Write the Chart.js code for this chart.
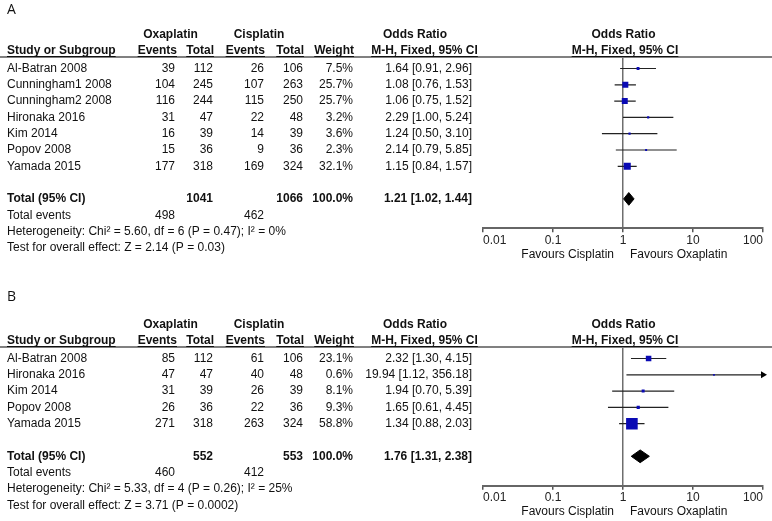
<!DOCTYPE html>
<html>
<head>
<meta charset="utf-8">
<script src="https://cdn.jsdelivr.net/npm/chart.js@4.4.1/dist/chart.umd.min.js"></script>
<style>
    body { margin: 0; background: #fff; }
    canvas { position: absolute; left: 0; }
    #chartA { top: 0; }
    #chartB { top: 290px; }
</style>
</head>
<body>
<canvas id="chartA" width="772" height="290"></canvas>
<canvas id="chartB" width="772" height="231"></canvas>
<script>
// axis
var tickValues = [0.01, 0.1, 1, 10, 100];
var tickLabels = ['0.01', '0.1', '1', '10', '100'];
var groups = ['Oxaplatin', 'Cisplatin'];

// panel A
var studiesA = ['Al-Batran 2008', 'Cunningham1 2008', 'Cunningham2 2008', 'Hironaka 2016', 'Kim 2014', 'Popov 2008', 'Yamada 2015'];
var oxaEventsA = [39, 104, 116, 31, 16, 15, 177];
var oxaTotalA = [112, 245, 244, 47, 39, 36, 318];
var cisEventsA = [26, 107, 115, 22, 14, 9, 169];
var cisTotalA = [106, 263, 250, 48, 39, 36, 324];
var weightA = [7.5, 25.7, 25.7, 3.2, 3.6, 2.3, 32.1];
var orA = [1.64, 1.08, 1.06, 2.29, 1.24, 2.14, 1.15];
var lowA = [0.91, 0.76, 0.75, 1.00, 0.50, 0.79, 0.84];
var highA = [2.96, 1.53, 1.52, 5.24, 3.10, 5.85, 1.57];
var pooledA = [1.21, 1.02, 1.44];
var sumTotalA = [1041, 1066];
var sumEventsA = [498, 462];
var hetA = 'Heterogeneity: Chi\u00b2 = 5.60, df = 6 (P = 0.47); I\u00b2 = 0%';
var testA = 'Test for overall effect: Z = 2.14 (P = 0.03)';

// panel B
var studiesB = ['Al-Batran 2008', 'Hironaka 2016', 'Kim 2014', 'Popov 2008', 'Yamada 2015'];
var oxaEventsB = [85, 47, 31, 26, 271];
var oxaTotalB = [112, 47, 39, 36, 318];
var cisEventsB = [61, 40, 26, 22, 263];
var cisTotalB = [106, 48, 39, 36, 324];
var weightB = [23.1, 0.6, 8.1, 9.3, 58.8];
var orB = [2.32, 19.94, 1.94, 1.65, 1.34];
var lowB = [1.30, 1.12, 0.70, 0.61, 0.88];
var highB = [4.15, 356.18, 5.39, 4.45, 2.03];
var pooledB = [1.76, 1.31, 2.38];
var sumTotalB = [552, 553];
var sumEventsB = [460, 412];
var hetB = 'Heterogeneity: Chi\u00b2 = 5.33, df = 4 (P = 0.26); I\u00b2 = 25%';
var testB = 'Test for overall effect: Z = 3.71 (P = 0.0002)';

// layout
var ROW_H = 16.3;
var FIRST_ROW = 68.5;
var TOP = 57;
var AXIS_GAP = 1.8;
var AXIS_H = 30;
var DIAMOND_H = 0.39;
var X_MIN = 0.01, X_MAX = 100;
var FONT = '12px "Liberation Sans", Arial, sans-serif';
var COL = { study: 7, oxEv: 175, oxTot: 213, cisEv: 264, cisTot: 303, weight: 353, or: 472 };

function fmtCI(v) {
    return v[0].toFixed(2) + ' [' + v[1].toFixed(2) + ', ' + v[2].toFixed(2) + ']';
}

function tablePlugin(p) {
    return {
        id: 'table',
        afterDraw: function (chart) {
            var ctx = chart.ctx;
            var ys = chart.scales.y;
            var xs = chart.scales.x;
            var n = p.studies.length;
            var totalRow = n + 1;

            function put(s, x, row, align, bold, under) {
                var y = ys.getPixelForValue(row);
                ctx.font = (bold ? 'bold ' : '') + FONT;
                ctx.textAlign = align;
                ctx.fillText(s, x, y);
                if (under) {
                    var w = ctx.measureText(s).width;
                    var x0 = align === 'right' ? x - w : (align === 'center' ? x - w / 2 : x);
                    ctx.fillRect(x0, Math.round(y + 5), w, 1);
                }
            }

            ctx.save();
            // header rule
            ctx.fillStyle = '#808080';
            ctx.fillRect(0, chart.chartArea.top - 1, chart.width, 2);

            ctx.fillStyle = '#111';
            ctx.textBaseline = 'middle';
            ctx.font = '14px "Open Sans", sans-serif';
            ctx.textAlign = 'left';
            ctx.fillText(p.letter, 7, p.letterY);

            // headers
            put(groups[0], 170.5, -2.06, 'center', true);
            put(groups[1], 259, -2.06, 'center', true);
            put('Odds Ratio', 415, -2.06, 'center', true);
            put('Odds Ratio', 623.5, -2.06, 'center', true);
            put('Study or Subgroup', COL.study, -1.07, 'left', true, true);
            put('Events', COL.oxEv + 2, -1.07, 'right', true, true);
            put('Total', COL.oxTot + 1, -1.07, 'right', true, true);
            put('Events', COL.cisEv + 1, -1.07, 'right', true, true);
            put('Total', COL.cisTot + 1, -1.07, 'right', true, true);
            put('Weight', COL.weight + 1, -1.07, 'right', true, true);
            put('M-H, Fixed, 95% CI', 424.5, -1.07, 'center', true, true);
            put('M-H, Fixed, 95% CI', 625, -1.07, 'center', true, true);

            // studies
            p.studies.forEach(function (s, i) {
                put(s, COL.study, i, 'left');
                put(String(p.oxEv[i]), COL.oxEv, i, 'right');
                put(String(p.oxTot[i]), COL.oxTot, i, 'right');
                put(String(p.cisEv[i]), COL.cisEv, i, 'right');
                put(String(p.cisTot[i]), COL.cisTot, i, 'right');
                put(p.weight[i].toFixed(1) + '%', COL.weight, i, 'right');
                put(fmtCI([p.or[i], p.low[i], p.high[i]]), COL.or, i, 'right');
            });

            // totals
            put('Total (95% CI)', COL.study, totalRow, 'left', true);
            put(String(p.sumTotal[0]), COL.oxTot, totalRow, 'right', true);
            put(String(p.sumTotal[1]), COL.cisTot, totalRow, 'right', true);
            put('100.0%', COL.weight, totalRow, 'right', true);
            put(fmtCI(p.pooled), COL.or, totalRow, 'right', true);
            put('Total events', COL.study, totalRow + 1, 'left');
            put(String(p.sumEvents[0]), COL.oxEv, totalRow + 1, 'right');
            put(String(p.sumEvents[1]), COL.cisEv, totalRow + 1, 'right');
            put(p.het, COL.study, totalRow + 2, 'left');
            put(p.test, COL.study, totalRow + 3, 'left');

            // favours
            var one = xs.getPixelForValue(1);
            var favRow = totalRow + AXIS_GAP + 1.62;
            put('Favours ' + groups[1], one - 9, favRow, 'right');
            put('Favours ' + groups[0], one + 7, favRow, 'left');
            ctx.restore();
        }
    };
}

function buildPanel(canvasId, p) {
    var canvas = document.getElementById(canvasId);
    var n = p.studies.length;
    var totalRow = n + 1;
    var axisRow = totalRow + AXIS_GAP;
    var axisPx = FIRST_ROW + axisRow * ROW_H;
    var yMin = (TOP - FIRST_ROW) / ROW_H;

    var datasets = [];

    // study squares
    datasets.push({
        type: 'scatter',
        order: 0,
        data: p.or.map(function (v, i) { return { x: v, y: i }; }),
        pointStyle: 'rect',
        pointRadius: p.weight.map(function (w) { return (1.6 + w * 0.17) / Math.SQRT2; }),
        pointBackgroundColor: '#0a0ab4',
        pointBorderColor: '#0a0ab4',
        pointBorderWidth: 0,
        backgroundColor: '#0a0ab4'
    });

    // confidence intervals
    p.low.forEach(function (lo, i) {
        datasets.push({
            type: 'line',
            order: 2,
            data: [{ x: lo, y: i }, { x: Math.min(p.high[i], X_MAX), y: i }],
            borderColor: '#222',
            borderWidth: 1.2,
            pointRadius: 0
        });
    });

    // arrows for CIs running off the axis
    var arrows = [];
    p.high.forEach(function (hi, i) {
        if (hi > X_MAX) arrows.push({ x: X_MAX, y: i });
    });
    if (arrows.length) {
        datasets.push({
            type: 'scatter',
            order: 1,
            data: arrows,
            pointStyle: 'triangle',
            pointRotation: 90,
            pointRadius: 4,
            pointBackgroundColor: '#000',
            pointBorderColor: '#000',
            pointBorderWidth: 0,
            clip: false
        });
    }

    // pooled diamond
    var pl = p.pooled;
    datasets.push({
        type: 'line',
        order: 1,
        data: [
            { x: pl[1], y: totalRow },
            { x: pl[0], y: totalRow - DIAMOND_H },
            { x: pl[2], y: totalRow },
            { x: pl[0], y: totalRow + DIAMOND_H },
            { x: pl[1], y: totalRow }
        ],
        fill: 'shape',
        backgroundColor: '#000',
        borderColor: '#000',
        borderWidth: 1,
        pointRadius: 0,
        tension: 0
    });

    return new Chart(canvas, {
        type: 'scatter',
        data: { datasets: datasets },
        options: {
            responsive: false,
            animation: false,
            devicePixelRatio: 1,
            events: [],
            layout: { padding: { left: 483, right: 9, top: TOP, bottom: canvas.height - axisPx - AXIS_H } },
            plugins: { legend: { display: false }, tooltip: { enabled: false } },
            scales: {
                x: {
                    type: 'logarithmic',
                    min: X_MIN,
                    max: X_MAX,
                    afterBuildTicks: function (s) {
                        s.ticks = tickValues.map(function (v) { return { value: v }; });
                    },
                    afterFit: function (s) { s.height = AXIS_H; },
                    ticks: {
                        autoSkip: false,
                        maxRotation: 0,
                        align: 'inner',
                        padding: 1,
                        color: '#222',
                        font: { family: '"Liberation Sans", Arial, sans-serif', size: 12 },
                        callback: function (v, i) { return tickLabels[i]; }
                    },
                    grid: {
                        color: function (c) { return c.tick && c.tick.value === 1 ? '#6e6e6e' : 'rgba(0,0,0,0)'; },
                        lineWidth: 1.5,
                        tickColor: '#555',
                        tickWidth: 1.5,
                        tickLength: 4
                    },
                    border: { color: '#666', width: 2 }
                },
                y: { type: 'linear', display: false, reverse: true, min: yMin, max: axisRow }
            }
        },
        plugins: [tablePlugin(p)]
    });
}

buildPanel('chartA', {
    letter: 'A', letterY: 10,
    studies: studiesA, oxEv: oxaEventsA, oxTot: oxaTotalA, cisEv: cisEventsA, cisTot: cisTotalA,
    weight: weightA, or: orA, low: lowA, high: highA, pooled: pooledA,
    sumTotal: sumTotalA, sumEvents: sumEventsA, het: hetA, test: testA
});
buildPanel('chartB', {
    letter: 'B', letterY: 7,
    studies: studiesB, oxEv: oxaEventsB, oxTot: oxaTotalB, cisEv: cisEventsB, cisTot: cisTotalB,
    weight: weightB, or: orB, low: lowB, high: highB, pooled: pooledB,
    sumTotal: sumTotalB, sumEvents: sumEventsB, het: hetB, test: testB
});
</script>
</body>
</html>
